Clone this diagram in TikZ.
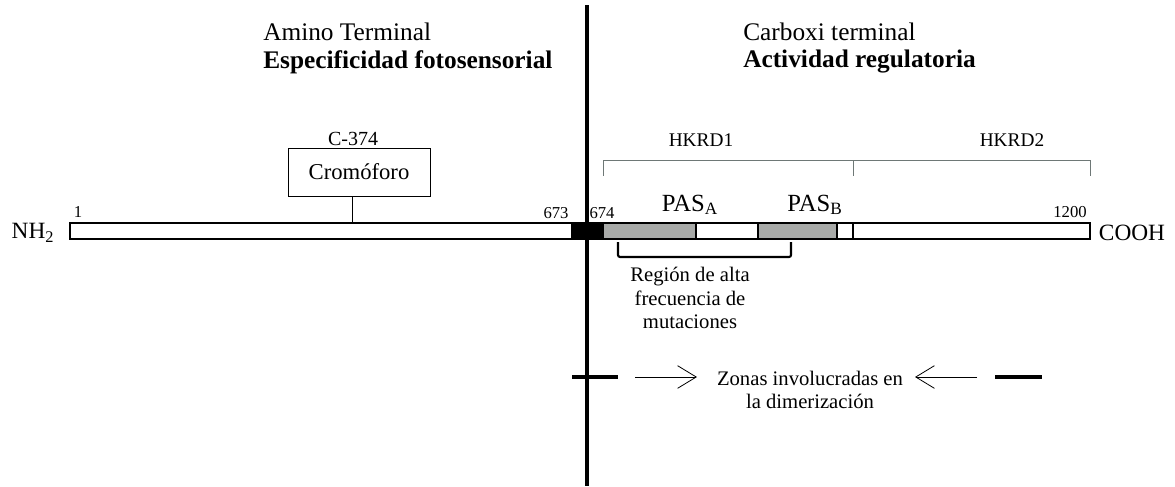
\documentclass[tikz,border=0pt]{standalone}
\usepackage{fontspec}
\setmainfont{Liberation Serif}
\usetikzlibrary{arrows.meta}
\definecolor{pasgray}{RGB}{168,170,168}
\definecolor{brk}{RGB}{110,120,118}
\newcommand{\fs}[1]{\fontsize{#1pt}{1.15\dimexpr #1pt\relax}\selectfont}
\tikzset{
  head/.style={font=\fs{19}, anchor=west, inner sep=0pt},
  headb/.style={font=\fs{19}\bfseries, anchor=west, inner sep=0pt},
  num/.style={font=\fs{12.5}, inner sep=0pt},
  small/.style={font=\fs{15.5}, inner sep=0pt, align=center},
  hk/.style={font=\fs{14.5}, inner sep=0pt},
  pas/.style={font=\fs{18.5}, inner sep=0pt},
  term/.style={font=\fs{17.5}, inner sep=0pt},
  cbox/.style={draw, line width=0.7pt, font=\fs{17}, minimum width=106.5pt, minimum height=36pt, inner sep=0pt},
  barline/.style={line width=0.8pt},
  bracket/.style={draw=brk, line width=0.7pt},
  mutbr/.style={line width=1.6pt, rounded corners=1.5pt},
  dimer/.style={line width=3pt},
  zarrow/.style={line width=0.6pt, -{Straight Barb[length=14pt,width=17pt]}},
}
\begin{document}
\begin{tikzpicture}[x=0.75pt,y=-0.75pt]
\useasboundingbox (0,0) rectangle (1175,486);
% headings
\node[head] (amino) at (263,32) {Amino Terminal};
\node[headb] (espec) at (263,62) {Especificidad fotosensorial};
\node[head] (carb) at (743,32) {Carboxi terminal};
\node[headb] (activ) at (743,62) {Actividad regulatoria};
% protein bar
\draw[barline] (70,223) rectangle (1090,239);
\fill[black] (571,223) rectangle (603,239);
\draw[barline, fill=pasgray] (603,223) rectangle (696,239);
\draw[barline, fill=pasgray] (758,223) rectangle (837,239);
\coordinate (tktop) at (853,223);
\coordinate (tkbot) at (853,239);
\draw[barline] (tktop) -- (tkbot);
% central vertical line
\coordinate (vtop) at (587,5);
\coordinate (vbot) at (587,486);
\draw[line width=2.6pt] (vtop) -- (vbot);
% labels on bar
\node[term] (nh2) at (33,233) {NH\textsubscript{2}};
\node[term] (cooh) at (1132,233) {COOH};
\node[num] (n1) at (78,212) {1};
\node[num] (n673) at (556,213) {673};
\node[num] (n674) at (602,213) {674};
\node[num] (n1200) at (1070,212) {1200};
\node[pas] (pasa) at (690,205) {PAS\textsubscript{A}};
\node[pas] (pasb) at (815,205) {PAS\textsubscript{B}};
% chromophore
\node[cbox] (crom) at (359,172) {Cromóforo};
\node[small, font=\fs{15}] (c374) at (353,139) {C-374};
\coordinate (cattach) at (352,223);
\draw[line width=0.7pt] (cattach) -- (cattach |- crom.south);
% HKRD brackets
\coordinate (h0) at (603,160);
\coordinate (h1) at (853,160);
\coordinate (h2) at (1090,160);
\draw[bracket] (h0) -- (h2);
\draw[bracket] (h0) -- ++(0,16);
\draw[bracket] (h1) -- ++(0,16);
\draw[bracket] (h2) -- ++(0,16);
\node[hk] (hk1) at (701,140) {HKRD1};
\node[hk] (hk2) at (1012,140) {HKRD2};
% mutation region
\coordinate (m0) at (618,242);
\coordinate (m1) at (791,242);
\draw[mutbr] (m0) -- ++(0,15) -| (m1);
\node[small] (mut) at (690,298) {Región de alta\\frecuencia de\\mutaciones};
% dimerization
\coordinate (dl0) at (572,377);
\coordinate (dl1) at (618,377);
\coordinate (dr0) at (995,377);
\coordinate (dr1) at (1042,377);
\draw[dimer] (dl0) -- (dl1);
\draw[dimer] (dr0) -- (dr1);
\node[small] (dim) at (810,390) {Zonas involucradas en\\la dimerización};
\coordinate (al0) at (635,377);
\coordinate (al1) at (697,377);
\coordinate (ar0) at (977,377);
\coordinate (ar1) at (915,377);
\draw[zarrow] (al0) -- (al1);
\draw[zarrow] (ar0) -- (ar1);
\end{tikzpicture}
\end{document}
